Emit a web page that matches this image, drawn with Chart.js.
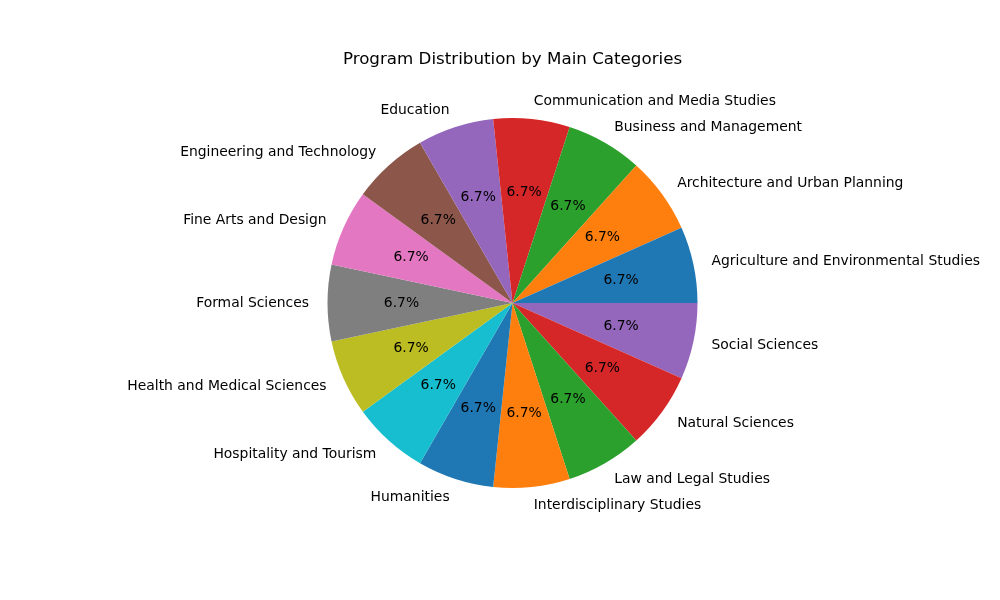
<!DOCTYPE html>
<html>
<head>
<meta charset="utf-8">
<script src="https://cdn.jsdelivr.net/npm/chart.js@4"></script>
<style>
html,body{margin:0;padding:0;background:#fff;}
#wrap{width:1000px;height:600px;position:relative;}
</style>
</head>
<body>
<div id="wrap"><canvas id="c" width="1000" height="600"></canvas></div>
<script>
// Data (matplotlib order: counterclockwise from 3 o'clock)
const categories = [
  "Agriculture and Environmental Studies",
  "Architecture and Urban Planning",
  "Business and Management",
  "Communication and Media Studies",
  "Education",
  "Engineering and Technology",
  "Fine Arts and Design",
  "Formal Sciences",
  "Health and Medical Sciences",
  "Hospitality and Tourism",
  "Humanities",
  "Interdisciplinary Studies",
  "Law and Legal Studies",
  "Natural Sciences",
  "Social Sciences"
];
const counts = [1,1,1,1,1,1,1,1,1,1,1,1,1,1,1];
const palette = ["#1f77b4","#ff7f0e","#2ca02c","#d62728","#9467bd","#8c564b","#e377c2","#7f7f7f","#bcbd22","#17becf"];
const titleText = "Program Distribution by Main Categories";

// Chart.js draws clockwise; reverse order so it matches matplotlib's counterclockwise layout
const labelsR = categories.slice().reverse();
const countsR = counts.slice().reverse();
const colorsR = categories.map((_, i) => palette[i % palette.length]).reverse();
const total = counts.reduce((a, b) => a + b, 0);

const FONT = "'DejaVu Sans', sans-serif";

const pieLabels = {
  id: 'pieLabels',
  afterDatasetsDraw(chart) {
    const ctx = chart.ctx;
    const meta = chart.getDatasetMeta(0);
    ctx.save();
    meta.data.forEach((arc, i) => {
      const p = arc.getProps(['x','y','startAngle','endAngle','outerRadius'], true);
      const mid = (p.startAngle + p.endAngle) / 2;
      const cx = Math.cos(mid), cy = Math.sin(mid);
      // percent at 0.6 r
      ctx.font = "13.9px " + FONT;
      ctx.fillStyle = "#000";
      ctx.textAlign = "center";
      ctx.textBaseline = "middle";
      const pct = (countsR[i] / total * 100).toFixed(1) + "%";
      ctx.fillText(pct, p.x + cx * p.outerRadius * 0.6, p.y + cy * p.outerRadius * 0.6);
      // label at 1.1 r
      const lx = p.x + cx * p.outerRadius * 1.1;
      const ly = p.y + cy * p.outerRadius * 1.1 + 0.5;
      ctx.textAlign = cx >= 0 ? "left" : "right";
      ctx.fillText(labelsR[i], lx, ly);
    });
    // title
    const ca = chart.chartArea;
    ctx.font = "16.7px " + FONT;
    ctx.textAlign = "center";
    ctx.textBaseline = "middle";
    ctx.fillText(titleText, (ca.left + ca.right) / 2, 60);
    ctx.restore();
  }
};

new Chart(document.getElementById('c'), {
  type: 'pie',
  data: {
    labels: labelsR,
    datasets: [{
      data: countsR,
      backgroundColor: colorsR,
      borderWidth: 0
    }]
  },
  options: {
    responsive: false,
    animation: false,
    rotation: 90,
    layout: { padding: { left: 327.5, right: 302.5, top: 118, bottom: 112 } },
    plugins: {
      legend: { display: false },
      tooltip: { enabled: false },
      title: { display: false }
    }
  },
  plugins: [pieLabels]
});
</script>
</body>
</html>
